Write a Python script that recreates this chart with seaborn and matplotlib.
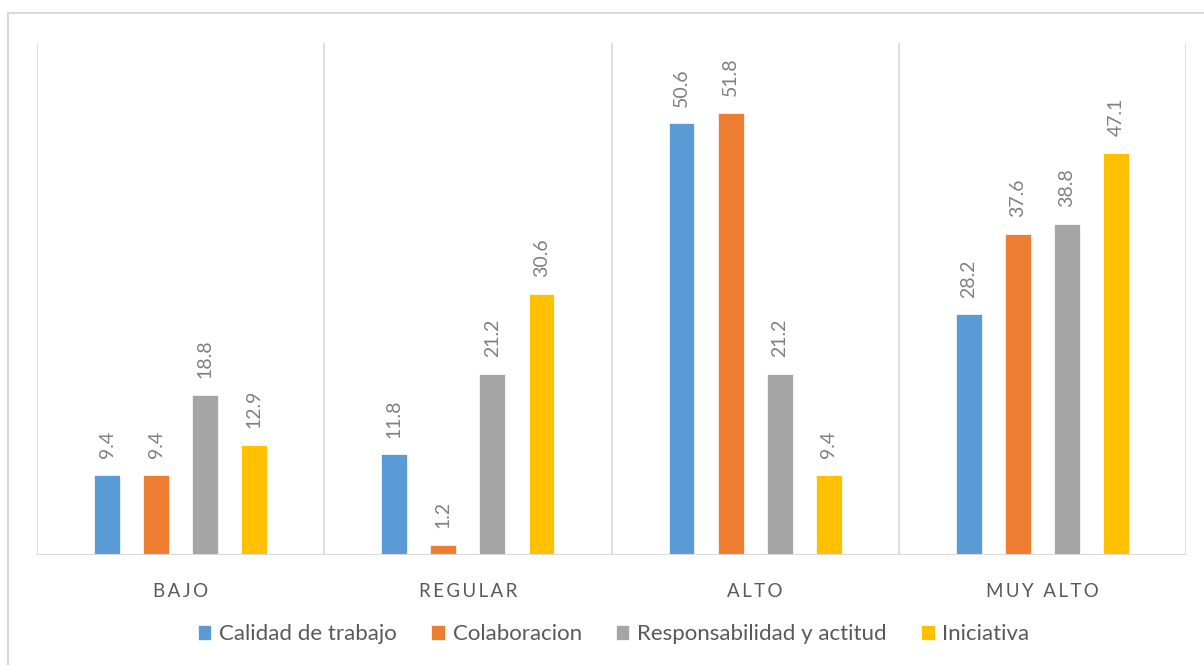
import matplotlib
matplotlib.use("Agg")
import matplotlib.pyplot as plt
from matplotlib.patches import Rectangle
import seaborn as sns
import pandas as pd

categories = ["BAJO", "REGULAR", "ALTO", "MUY ALTO"]
category_labels = ["B\u2009A\u2009J\u2009O", "R\u2009E\u2009G\u2009U\u2009L\u2009A\u2009R",
                   "A\u2009L\u2009T\u2009O", "M\u2009U\u2009Y\u2009 \u2009A\u2009L\u2009T\u2009O"]
series = ["Calidad de trabajo", "Colaboracion", "Responsabilidad y actitud", "Iniciativa"]
calidad = [9.4, 11.8, 50.6, 28.2]
colaboracion = [9.4, 1.2, 51.8, 37.6]
responsabilidad = [18.8, 21.2, 21.2, 38.8]
iniciativa = [12.9, 30.6, 9.4, 47.1]
colors = ["#5B9BD5", "#ED7D31", "#A5A5A5", "#FFC000"]

rows = []
for name, vals in zip(series, [calidad, colaboracion, responsabilidad, iniciativa]):
    for cat, v in zip(categories, vals):
        rows.append({"nivel": cat, "serie": name, "valor": v})
df = pd.DataFrame(rows)

sns.set_theme(style="white")
plt.rcParams["font.family"] = ["Lato", "DejaVu Sans"]

fig = plt.figure(figsize=(12.04, 6.65), dpi=100)
fig.patch.set_facecolor("white")
# outer chart frame
fig.add_artist(Rectangle((8 / 1204, -0.02), 1.05, 0.9805 + 0.02, transform=fig.transFigure,
                         fill=False, edgecolor="#D9D9D9", linewidth=1.5))

ax = fig.add_axes([37 / 1204, 110 / 665, 1149 / 1204, 512 / 665])
sns.barplot(data=df, x="nivel", y="valor", hue="serie", order=categories,
            hue_order=series, palette=colors, saturation=1, width=0.683, gap=0.474,
            edgecolor="white", linewidth=0.5, ax=ax)

for cont in ax.containers:
    vals = [b.get_height() for b in cont]
    ax.bar_label(cont, labels=[f"{v:.1f}" for v in vals], rotation=90,
                 padding=12, color="#808080", fontsize=14)

ax.set_xlim(-0.5, 3.5)
ax.set_ylim(0, 60)
for xb in [-0.5, 0.5, 1.5, 2.5, 3.5]:
    ax.axvline(xb, color="#D9D9D9", linewidth=1.2, zorder=0)
ax.axhline(0, color="#D9D9D9", linewidth=1.5, zorder=1)
for s in ax.spines.values():
    s.set_visible(False)
ax.set_yticks([])
ax.set_xticks(range(len(categories)))
ax.set_xticklabels(category_labels, color="#595959", fontsize=13.5)
ax.tick_params(axis="x", length=0, pad=20)
ax.set_xlabel("")
ax.set_ylabel("")

leg = ax.legend(loc="center", bbox_to_anchor=(0.502, -0.155), ncol=4, frameon=False,
                fontsize=16, handlelength=0.6, handleheight=0.6, handletextpad=0.35,
                columnspacing=1.55)
for t in leg.get_texts():
    t.set_color("#595959")

fig.savefig("out.png", dpi=100, facecolor="white")
